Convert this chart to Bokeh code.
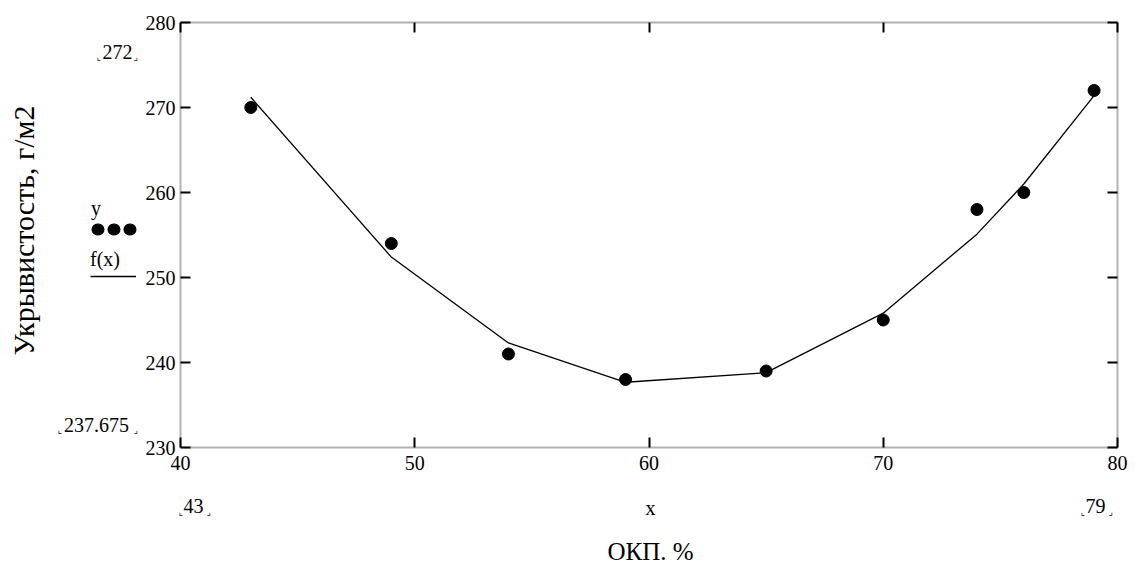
import math
from bokeh.plotting import figure
from bokeh.models import (Range1d, FixedTicker, LinearAxis, Label, Legend,
                          LegendItem, BoxAnnotation)
from bokeh.core.properties import value
from bokeh.embed import file_html
from bokeh.resources import INLINE

# ---- data ----
x_data = [43, 49, 54, 59, 65, 70, 74, 76, 79]
y_data = [270, 254, 241, 238, 239, 245, 258, 260, 272]
f_data = [271.2, 252.4, 242.3, 237.675, 238.8, 245.8, 255.1, 261.0, 271.4]
x_ticks = [40, 50, 60, 70, 80]
y_ticks = [230, 240, 250, 260, 270, 280]
y_max_label = "272"
y_min_label = "237.675"
x_min_label = "43"
x_max_label = "79"
x_var_label = "x"
x_title = "ОКП. %"
y_title = "Укрывистость, г/м2"
legend_y = "y"
legend_f = "f(x)"

SERIF = "Liberation Serif"
W, H = 1129, 568

X0, X1 = x_ticks[0], x_ticks[-1]
Y0, Y1 = y_ticks[0], y_ticks[-1]

# pixel geometry of the plot box inside the canvas
FX0, FX1, FY0, FY1 = 180, 1117, 22, 447
KX = (X1 - X0) / (FX1 - FX0)
KY = (Y1 - Y0) / (FY1 - FY0)


def dx(px):
    return X0 + (px - FX0) * KX


def dy(py):
    return Y1 - (py - FY0) * KY


# the frame covers the whole canvas; the box is drawn at the tick range
p = figure(width=W, height=H, title=None,
           x_range=Range1d(dx(0), dx(W)), y_range=Range1d(dy(H), dy(0)),
           output_backend="svg", toolbar_location=None,
           min_border_left=0, min_border_right=0,
           min_border_top=0, min_border_bottom=0,
           background_fill_color="white", border_fill_color="white",
           outline_line_color=None)
p.xgrid.visible = False
p.ygrid.visible = False


def style_axis(ax, ticks, loc, bounds, labels=True):
    ax.ticker = FixedTicker(ticks=ticks, minor_ticks=[])
    ax.fixed_location = loc
    ax.bounds = bounds
    ax.axis_line_color = None
    ax.major_tick_in = 10
    ax.major_tick_out = 0
    ax.major_tick_line_color = "black"
    ax.major_tick_line_width = 2
    ax.minor_tick_line_color = None
    if labels:
        ax.major_label_text_font = SERIF
        ax.major_label_text_font_size = "20px"
        ax.major_label_text_color = "black"
    else:
        ax.major_label_text_color = None
        ax.major_label_text_font_size = "1px"
        ax.major_label_standoff = 0


xa = p.xaxis[0]
style_axis(xa, x_ticks, Y0, (X0, X1))
xa.major_label_standoff = 8

ya = p.yaxis[0]
style_axis(ya, y_ticks, X0, (Y0, Y1))
ya.major_label_standoff = 5

ra = LinearAxis()
style_axis(ra, y_ticks, X1, (Y0, Y1), labels=False)
p.add_layout(ra, "right")
ta = LinearAxis()
style_axis(ta, x_ticks, Y1, (X0, X1), labels=False)
p.add_layout(ta, "above")

# plot box
p.add_layout(BoxAnnotation(left=X0, right=X1, bottom=Y0, top=Y1,
                           fill_color=None, line_color="black", line_width=2))

# ---- data marks ----
fit = p.line(x_data, f_data, line_color="black", line_width=1.3)
pts = p.scatter(x_data, y_data, size=12, fill_color="black", line_color="black")

# ---- range markers and titles ----
texts = [
    (y_max_label, 117, 51, 20),
    (y_min_label, 96, 424, 20),
    (x_min_label, 193, 505, 20),
    (x_max_label, 1095, 505, 20),
    (x_var_label, 650, 507, 20),
    (x_title, 650, 551, 25),
]
for t, px, py, fs in texts:
    p.add_layout(Label(x=dx(px), y=dy(py), text=t, text_align="center",
                       text_baseline="middle", text_font=SERIF,
                       text_font_size=f"{fs}px", text_color="black"))

p.add_layout(Label(x=dx(23), y=dy(230), text=y_title, angle=math.pi / 2,
                   text_align="center", text_baseline="middle",
                   text_font=SERIF, text_font_size="30px", text_color="black"))

brackets = [
    ("⌞", 98, 61), ("⌟", 135, 61),
    ("⌞", 59, 434), ("⌟", 135, 434),
    ("⌞", 180, 516), ("⌟", 208, 516),
    ("⌞", 1082, 516), ("⌟", 1110, 516),
]
for t, px, py in brackets:
    p.add_layout(Label(x=dx(px), y=dy(py), text=t, text_align="center",
                       text_baseline="bottom", text_font="DejaVu Sans",
                       text_font_size="9px", text_color="black"))

# ---- Mathcad-style legend (label above marker) ----
# hidden twin of the scatter series, used only for its three-dot legend glyph
dots = p.line(x_data, y_data, line_color="black", line_width=12,
              line_dash="1 15", line_dash_offset=10, line_cap="round",
              visible=False)


def make_legend(title, renderer, loc, gw, gh):
    lg = Legend(items=[LegendItem(label=value(""), renderers=[renderer])],
                location=loc, title=title,
                title_text_font=SERIF, title_text_font_size="20px",
                title_text_font_style="normal", title_text_color="black",
                title_standoff=2, glyph_width=gw, glyph_height=gh,
                label_width=0, label_height=gh, label_standoff=0,
                label_text_font_size="1px",
                padding=0, spacing=0, margin=0,
                inactive_fill_alpha=0,
                border_line_color=None, background_fill_alpha=0)
    p.add_layout(lg)
    return lg


make_legend(legend_y, dots, (91, H - 236), 46, 14)
make_legend(legend_f, fit, (90, H - 279), 46, 6)

open("out.html", "w").write(file_html(p, INLINE))
